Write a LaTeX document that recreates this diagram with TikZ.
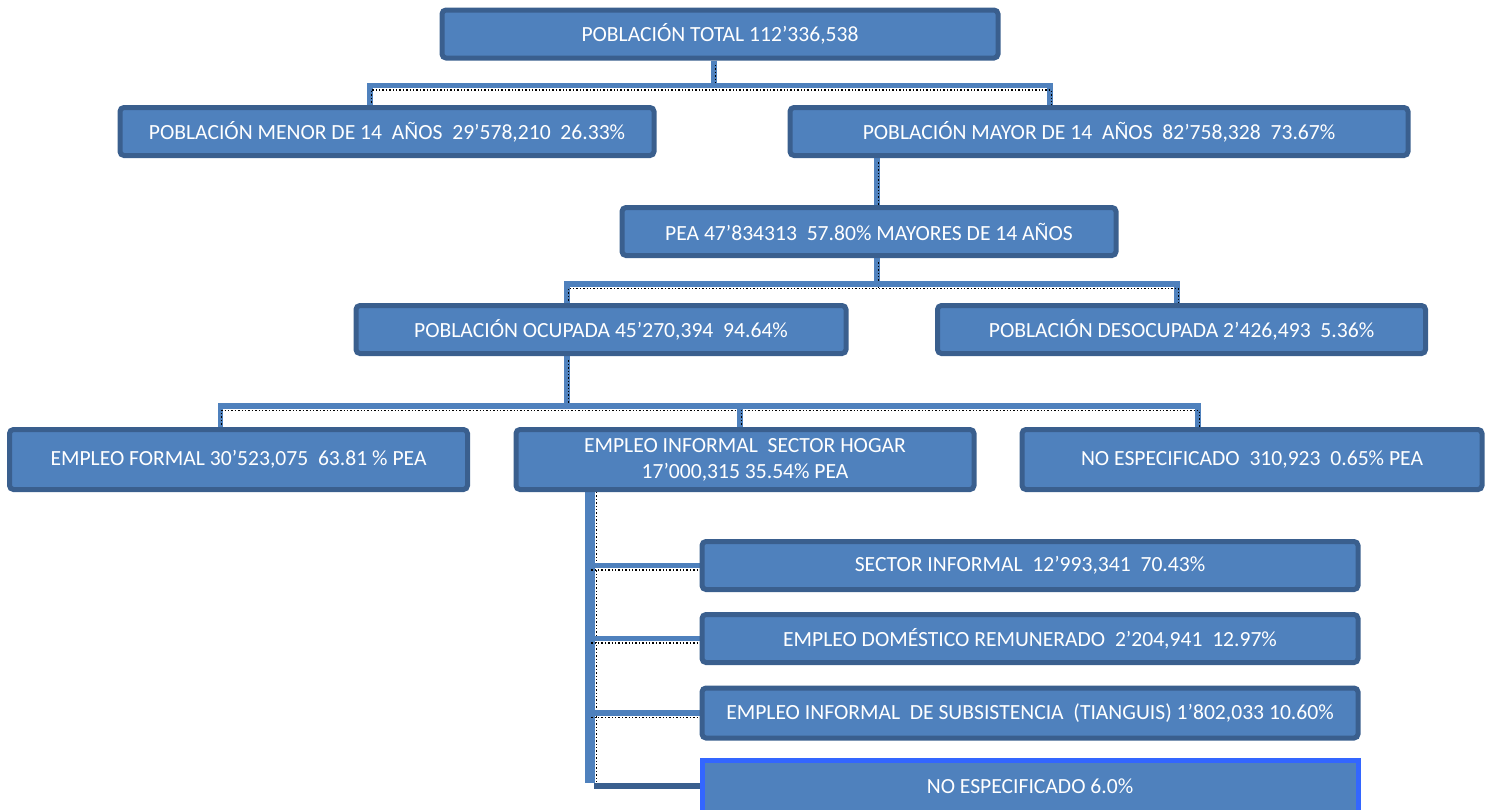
\documentclass[tikz,border=0pt]{standalone}
\usepackage{fontspec}
\setmainfont{Carlito}
\usetikzlibrary{calc,backgrounds}
\definecolor{boxfill}{HTML}{4F81BD}
\definecolor{boxline}{HTML}{3A5F8E}
\definecolor{lastline}{HTML}{3366FF}
\begin{document}
\begin{tikzpicture}[x=0.5pt,y=-0.5pt,
    box/.style={draw=boxline,fill=boxfill,line width=2.5pt,rounded corners=2pt,
      text=white,font=\fontsize{10.8}{13}\selectfont,align=center,inner sep=0pt},
    link/.style={draw=boxfill,line width=2.8pt,
      postaction={draw=black,line width=0.7pt,densely dotted,
        transform canvas={shift={(0.6pt,-2.2pt)}}}},
    trunk/.style={draw=boxfill,line width=4.8pt,
      postaction={draw=black,line width=0.7pt,densely dotted,
        transform canvas={shift={(3.2pt,0pt)}}}},
    plain/.style={draw=boxline,line width=2.8pt}]
      \useasboundingbox (0,0) rectangle (1491,809);
      % boxes, centres in pixels
      \node[box,minimum width=278pt,minimum height=24pt] (total) at (720,34) {POBLACIÓN TOTAL 112’336,538};
      \node[box,minimum width=267pt,minimum height=24pt] (menor) at (387,131.5) {POBLACIÓN MENOR DE 14~ AÑOS~ 29’578,210~ 26.33\%};
      \node[box,minimum width=309pt,minimum height=24pt] (mayor) at (1099,131.5) {POBLACIÓN MAYOR DE 14~ AÑOS~ 82’758,328~ 73.67\%};
      \node[box,minimum width=247pt,minimum height=24pt] (pea) at (869,231.5) {PEA 47’834313~ 57.80\% MAYORES DE 14 AÑOS};
      \node[box,minimum width=245pt,minimum height=24pt] (ocupada) at (601,329.5) {POBLACIÓN OCUPADA 45’270,394~ 94.64\%};
      \node[box,minimum width=244pt,minimum height=24pt] (desocupada) at (1181.5,329.5) {POBLACIÓN DESOCUPADA 2’426,493~ 5.36\%};
      \node[box,minimum width=229pt,minimum height=30pt] (formal) at (238.5,459.5) {EMPLEO FORMAL 30’523,075~ 63.81 \% PEA};
      \node[box,minimum width=229pt,minimum height=30pt] (informal) at (745,459.5) {EMPLEO INFORMAL~ SECTOR HOGAR\\17’000,315 35.54\% PEA};
      \node[box,minimum width=230pt,minimum height=30pt] (noesp) at (1252,459.5) {NO ESPECIFICADO~ 310,923~ 0.65\% PEA};
      \node[box,minimum width=328pt,minimum height=24pt] (sector) at (1030,565.5) {SECTOR INFORMAL~ 12’993,341~ 70.43\%};
      \node[box,minimum width=328pt,minimum height=24pt] (domestico) at (1030,638.5) {EMPLEO DOMÉSTICO REMUNERADO~ 2’204,941~ 12.97\%};
      \node[box,minimum width=328pt,minimum height=25pt] (tianguis) at (1030,713) {EMPLEO INFORMAL~ DE SUBSISTENCIA~ (TIANGUIS) 1’802,033 10.60\%};
      \node[box,draw=lastline,rounded corners=0pt,minimum width=328pt,minimum height=26pt] (noesp2) at (1030,786) {NO ESPECIFICADO 6.0\%};
      \begin{scope}[on background layer]
      % first level
      \draw[link] ([xshift=-3pt]total.south) -- ++(0,25) coordinate (f1);
      \draw[link] ([xshift=-8.5pt]menor.north) |- (f1) -| ([xshift=-24.5pt]mayor.north);
      % mayor to pea
      \draw[link] ([xshift=4pt]pea.north |- mayor.south) -- ([xshift=4pt]pea.north);
      % pea to ocupada / desocupada
      \draw[link] ([xshift=4pt]pea.south) -- ++(0,26) coordinate (f2);
      \draw[link] ([xshift=-17pt]ocupada.north) |- (f2) -| ([xshift=-2.25pt]desocupada.north);
      % ocupada to three kinds of employment
      \draw[link] ([xshift=-17pt]ocupada.south) -- ++(0,50) coordinate (f3);
      \draw[link] ([xshift=-9pt]formal.north) |- (f3) -| ([xshift=-27pt]noesp.north);
      \draw[link] ([xshift=-2.5pt]informal.north) coordinate (f5) -- (f5 |- f3);
      % informal sector breakdown
      \draw[trunk] ([xshift=-77.5pt]informal.south) coordinate (f4) -- ([yshift=1.5pt]f4 |- noesp2.west);
      \draw[link] (f4 |- sector.west) -- (sector.west);
      \draw[link] (f4 |- domestico.west) -- (domestico.west);
      \draw[link] (f4 |- tianguis.west) -- (tianguis.west);
      \draw[plain] ([xshift=2pt]f4 |- noesp2.west) -- (noesp2.west);
      \end{scope}
\end{tikzpicture}
\end{document}
